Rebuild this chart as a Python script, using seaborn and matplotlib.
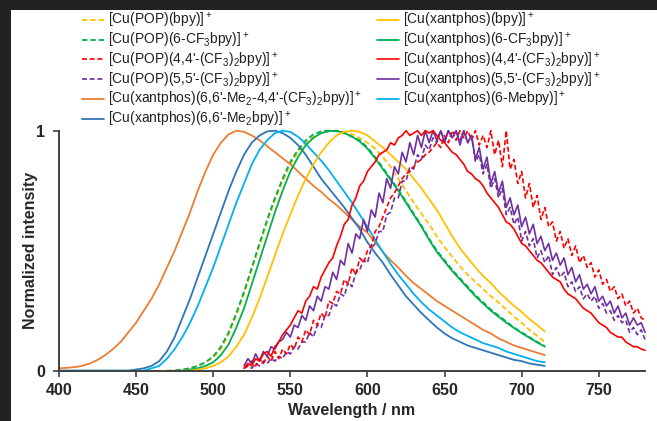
import numpy as np
import pandas as pd
import matplotlib
matplotlib.use("Agg")
import matplotlib.pyplot as plt
from matplotlib.patches import Rectangle
import seaborn as sns

sns.set_style("white")
plt.rcParams['font.family'] = ['Liberation Sans', 'DejaVu Sans']
plt.rcParams['mathtext.fontset'] = 'custom'
plt.rcParams['mathtext.rm'] = 'Liberation Sans'
plt.rcParams['mathtext.it'] = 'Liberation Sans:italic'
plt.rcParams['mathtext.bf'] = 'Liberation Sans:bold'

# ---------------- data ----------------
# smooth spectra: 5 nm step, all ending at 715 nm
smooth_end = 715
smooth_step = 5
# noisy spectra: 2.5 nm step, starting at 520 nm
noisy_start = 520
noisy_step = 2.5

orange_xan_me2cf3 = [0.01, 0.012, 0.015, 0.02, 0.03, 0.045, 0.065, 0.09, 0.12, 0.16,
                     0.20, 0.25, 0.30, 0.36, 0.43, 0.50, 0.58, 0.66, 0.75, 0.83,
                     0.90, 0.95, 0.985, 1.0, 0.995, 0.98, 0.96, 0.935, 0.91, 0.885,
                     0.86, 0.83, 0.80, 0.77, 0.745, 0.715, 0.69, 0.66, 0.63, 0.60,
                     0.575, 0.535, 0.495, 0.46, 0.43, 0.395, 0.365, 0.34, 0.315, 0.29,
                     0.27, 0.25, 0.23, 0.21, 0.19, 0.17, 0.155, 0.135, 0.12, 0.105,
                     0.095, 0.085, 0.075, 0.065]
blue_xan_me2 = [0, 0, 0, 0, 0, 0, 0, 0, 0, 0,
                0.005, 0.01, 0.02, 0.04, 0.08, 0.14, 0.22, 0.30, 0.39, 0.48,
                0.57, 0.66, 0.75, 0.83, 0.90, 0.95, 0.98, 0.997, 1.0, 0.99,
                0.97, 0.94, 0.90, 0.85, 0.80, 0.76, 0.72, 0.68, 0.635, 0.59,
                0.535, 0.49, 0.45, 0.40, 0.355, 0.31, 0.275, 0.24, 0.21, 0.18,
                0.155, 0.135, 0.12, 0.105, 0.095, 0.085, 0.075, 0.065, 0.055, 0.045,
                0.04, 0.03, 0.025, 0.02]
cyan_xan_mebpy = [0, 0, 0, 0, 0, 0, 0, 0, 0, 0, 0, 0,
                  0.01, 0.02, 0.05, 0.09, 0.14, 0.20, 0.27, 0.35, 0.43, 0.52,
                  0.61, 0.70, 0.78, 0.86, 0.92, 0.96, 0.99, 1.0, 0.995, 0.975,
                  0.945, 0.91, 0.875, 0.835, 0.79, 0.745, 0.70, 0.65, 0.60, 0.545,
                  0.495, 0.445, 0.40, 0.36, 0.32, 0.285, 0.255, 0.23, 0.205, 0.18,
                  0.16, 0.145, 0.13, 0.115, 0.105, 0.095, 0.08, 0.07, 0.06, 0.05,
                  0.04, 0.035]
green_pop_cf3 = [0, 0, 0.005, 0.01, 0.02, 0.035, 0.06, 0.10, 0.16, 0.24,
                 0.33, 0.43, 0.53, 0.63, 0.72, 0.80, 0.87, 0.92, 0.96, 0.985,
                 0.997, 1.0, 0.997, 0.99, 0.975, 0.96, 0.93, 0.89, 0.845, 0.80,
                 0.755, 0.705, 0.655, 0.605, 0.55, 0.50, 0.46, 0.42, 0.385, 0.35,
                 0.315, 0.285, 0.255, 0.23, 0.205, 0.18, 0.16, 0.14, 0.12, 0.103]
green_xan_cf3 = [0, 0, 0.005, 0.01, 0.02, 0.035, 0.065, 0.11, 0.18, 0.26,
                 0.36, 0.46, 0.56, 0.66, 0.75, 0.83, 0.89, 0.94, 0.97, 0.99,
                 0.998, 1.0, 0.99, 0.975, 0.955, 0.925, 0.885, 0.84, 0.795, 0.75,
                 0.70, 0.65, 0.60, 0.545, 0.495, 0.455, 0.415, 0.38, 0.345, 0.31,
                 0.28, 0.25, 0.225, 0.20, 0.178, 0.157, 0.137, 0.118, 0.10]
yellow_pop_bpy = [0, 0, 0.005, 0.01, 0.02, 0.035, 0.055, 0.09, 0.15, 0.23,
                  0.32, 0.42, 0.52, 0.62, 0.71, 0.79, 0.86, 0.91, 0.95, 0.975,
                  0.99, 0.998, 1.0, 0.995, 0.985, 0.97, 0.95, 0.925, 0.89, 0.85,
                  0.80, 0.75, 0.70, 0.655, 0.61, 0.56, 0.515, 0.475, 0.435, 0.40,
                  0.37, 0.34, 0.31, 0.285, 0.255, 0.225, 0.20, 0.17, 0.145, 0.12]
yellow_xan_bpy = [0, 0, 0.005, 0.01, 0.02, 0.035, 0.06, 0.10, 0.15, 0.22,
                  0.30, 0.39, 0.48, 0.57, 0.65, 0.73, 0.80, 0.86, 0.91, 0.95,
                  0.98, 0.995, 1.0, 0.995, 0.98, 0.955, 0.93, 0.90, 0.87, 0.84,
                  0.80, 0.76, 0.715, 0.67, 0.615, 0.56, 0.51, 0.47, 0.43, 0.395,
                  0.365, 0.33, 0.30, 0.27, 0.245, 0.215, 0.19, 0.163]

red_xan_cf3 = [0.01, 0.03, 0.02, 0.05, 0.04, 0.07, 0.08, 0.06, 0.10, 0.12,
               0.15, 0.17, 0.19, 0.22, 0.25, 0.24, 0.29, 0.31, 0.35, 0.34,
               0.39, 0.42, 0.45, 0.47, 0.52, 0.56, 0.61, 0.63, 0.69, 0.72,
               0.77, 0.79, 0.83, 0.85, 0.87, 0.90, 0.91, 0.92, 0.95, 0.94,
               0.97, 0.98, 1.0, 0.98, 0.99, 1.0, 0.98, 1.0, 0.99, 1.0,
               0.98, 0.96, 0.95, 0.93, 0.91, 0.90, 0.88, 0.86, 0.83, 0.82,
               0.80, 0.79, 0.77, 0.74, 0.72, 0.70, 0.68, 0.65, 0.62, 0.61,
               0.59, 0.56, 0.53, 0.52, 0.50, 0.48, 0.46, 0.45, 0.43, 0.41,
               0.39, 0.38, 0.37, 0.34, 0.32, 0.31, 0.30, 0.28, 0.26, 0.25,
               0.24, 0.22, 0.20, 0.19, 0.18, 0.16, 0.15, 0.14, 0.14, 0.12,
               0.11, 0.10, 0.10, 0.09, 0.085]
purple_xan_cf3 = [0.02, 0.05, 0.03, 0.07, 0.04, 0.08, 0.06, 0.10, 0.09, 0.12,
                  0.13, 0.16, 0.14, 0.19, 0.18, 0.23, 0.21, 0.27, 0.25, 0.31,
                  0.29, 0.35, 0.34, 0.41, 0.38, 0.46, 0.44, 0.53, 0.49, 0.57,
                  0.55, 0.63, 0.58, 0.67, 0.64, 0.74, 0.70, 0.80, 0.76, 0.85,
                  0.82, 0.91, 0.87, 0.95, 0.90, 0.98, 0.93, 1.0, 0.95, 1.0,
                  0.96, 1.0, 0.95, 1.0, 0.97, 1.0, 0.94, 1.0, 0.95, 0.98,
                  0.88, 0.93, 0.84, 0.89, 0.78, 0.83, 0.74, 0.79, 0.68, 0.72,
                  0.65, 0.69, 0.60, 0.64, 0.57, 0.61, 0.53, 0.56, 0.50, 0.53,
                  0.46, 0.49, 0.44, 0.47, 0.40, 0.43, 0.37, 0.40, 0.34, 0.36,
                  0.32, 0.35, 0.29, 0.31, 0.27, 0.29, 0.24, 0.27, 0.22, 0.24,
                  0.19, 0.22, 0.19, 0.20, 0.16]
purple_pop_cf3 = [0.01, 0.02, 0.01, 0.03, 0.02, 0.04, 0.03, 0.05, 0.04, 0.06,
                  0.05, 0.08, 0.07, 0.10, 0.09, 0.12, 0.12, 0.16, 0.14, 0.19,
                  0.18, 0.23, 0.23, 0.28, 0.27, 0.32, 0.31, 0.37, 0.35, 0.41,
                  0.42, 0.46, 0.45, 0.51, 0.53, 0.58, 0.58, 0.65, 0.66, 0.72,
                  0.72, 0.79, 0.79, 0.85, 0.84, 0.90, 0.88, 0.94, 0.92, 0.97,
                  0.95, 1.0, 0.96, 1.0, 0.97, 1.0, 0.96, 1.0, 0.95, 0.98,
                  0.87, 0.90, 0.82, 0.86, 0.76, 0.80, 0.72, 0.76, 0.65, 0.68,
                  0.61, 0.64, 0.54, 0.58, 0.52, 0.55, 0.47, 0.50, 0.45, 0.48,
                  0.40, 0.43, 0.39, 0.41, 0.35, 0.37, 0.33, 0.35, 0.30, 0.32,
                  0.29, 0.31, 0.26, 0.28, 0.24, 0.25, 0.21, 0.23, 0.20, 0.21,
                  0.16, 0.18, 0.15, 0.17, 0.13]
red_pop_cf3 = [0.01, 0.02, 0.04, 0.02, 0.05, 0.03, 0.06, 0.04, 0.08, 0.05,
               0.09, 0.07, 0.11, 0.09, 0.14, 0.12, 0.17, 0.15, 0.21, 0.19,
               0.24, 0.22, 0.29, 0.28, 0.33, 0.32, 0.38, 0.36, 0.43, 0.40,
               0.47, 0.45, 0.50, 0.52, 0.58, 0.60, 0.64, 0.68, 0.72, 0.74,
               0.77, 0.80, 0.82, 0.83, 0.85, 0.87, 0.88, 0.90, 0.91, 0.93,
               0.95, 0.93, 0.98, 0.95, 1.0, 0.96, 1.0, 0.97, 1.0, 0.96,
               1.0, 0.94, 0.98, 0.93, 1.0, 0.90, 0.96, 0.85, 1.0, 0.84,
               0.88, 0.78, 0.83, 0.72, 0.78, 0.68, 0.73, 0.63, 0.68, 0.60,
               0.62, 0.54, 0.58, 0.51, 0.55, 0.48, 0.52, 0.45, 0.48, 0.43,
               0.45, 0.39, 0.42, 0.36, 0.38, 0.33, 0.35, 0.30, 0.32, 0.27,
               0.29, 0.24, 0.26, 0.22, 0.21]

labels = {
    'pop_bpy': '[Cu(POP)(bpy)]$^+$',
    'pop_cf3': '[Cu(POP)(6-CF$_3$bpy)]$^+$',
    'pop_44': "[Cu(POP)(4,4'-(CF$_3$)$_2$bpy)]$^+$",
    'pop_55': "[Cu(POP)(5,5'-(CF$_3$)$_2$bpy)]$^+$",
    'xan_me2cf3': "[Cu(xantphos)(6,6'-Me$_2$-4,4'-(CF$_3$)$_2$bpy)]$^+$",
    'xan_me2': "[Cu(xantphos)(6,6'-Me$_2$bpy)]$^+$",
    'xan_bpy': '[Cu(xantphos)(bpy)]$^+$',
    'xan_cf3': '[Cu(xantphos)(6-CF$_3$bpy)]$^+$',
    'xan_44': "[Cu(xantphos)(4,4'-(CF$_3$)$_2$bpy)]$^+$",
    'xan_55': "[Cu(xantphos)(5,5'-(CF$_3$)$_2$bpy)]$^+$",
    'xan_me': '[Cu(xantphos)(6-Mebpy)]$^+$',
}

YELLOW, GREEN, RED, PURPLE = '#FFC000', '#00B050', '#FF0000', '#7030A0'
ORANGE, BLUE, CYAN = '#ED7D31', '#2E75B6', '#00B0F0'

series = [
    ('pop_bpy', yellow_pop_bpy, 'smooth', YELLOW, True),
    ('pop_cf3', green_pop_cf3, 'smooth', GREEN, True),
    ('xan_me2cf3', orange_xan_me2cf3, 'smooth', ORANGE, False),
    ('xan_me2', blue_xan_me2, 'smooth', BLUE, False),
    ('xan_me', cyan_xan_mebpy, 'smooth', CYAN, False),
    ('xan_cf3', green_xan_cf3, 'smooth', GREEN, False),
    ('xan_bpy', yellow_xan_bpy, 'smooth', YELLOW, False),
    ('pop_55', purple_pop_cf3, 'noisy', PURPLE, True),
    ('pop_44', red_pop_cf3, 'noisy', RED, True),
    ('xan_55', purple_xan_cf3, 'noisy', PURPLE, False),
    ('xan_44', red_xan_cf3, 'noisy', RED, False),
]

fig = plt.figure(figsize=(6.57, 4.21), dpi=100)
ax = fig.add_axes([0.0898, 0.1195, 0.892, 0.5701])

handles = {}
for key, vals, kind, color, dashed in series:
    n = len(vals)
    if kind == 'smooth':
        wl = smooth_end - smooth_step * np.arange(n)[::-1]
    else:
        wl = noisy_start + noisy_step * np.arange(n)
    df = pd.DataFrame({'wl': wl, 'I': vals})
    before = len(ax.lines)
    sns.lineplot(data=df, x='wl', y='I', ax=ax, color=color,
                 linewidth=1.3 if kind == 'smooth' else 1.2,
                 legend=False, label=labels[key])
    line = ax.lines[before]
    line.set_clip_on(False)
    if dashed:
        line.set_dashes((3.0, 1.6))
    handles[key] = line

ax.set_xlim(400, 780)
ax.set_ylim(0, 1)
ax.set_xticks([400, 450, 500, 550, 600, 650, 700, 750])
ax.set_yticks([0, 1])
ax.set_yticklabels(['0', '1'])
for s in ['top', 'right']:
    ax.spines[s].set_visible(False)
for s in ['left', 'bottom']:
    ax.spines[s].set_color('#404040')
    ax.spines[s].set_linewidth(1.4)
ax.tick_params(axis='both', which='major', direction='out', length=4, width=1.2,
               color='#404040', labelsize=11.5, bottom=True, left=True)
ax.tick_params(axis='x', pad=5)
ax.tick_params(axis='y', pad=6)
for t in ax.get_xticklabels() + ax.get_yticklabels():
    t.set_fontweight('bold')
ax.set_xlabel('Wavelength / nm', fontsize=11.5, fontweight='bold')
ax.set_ylabel('Normalized intensity', fontsize=11.5, fontweight='bold')
ax.xaxis.set_label_coords(0.5, -0.135)
ax.yaxis.set_label_coords(-0.036, 0.5)

order = ['pop_bpy', 'pop_cf3', 'pop_44', 'pop_55', 'xan_me2cf3', 'xan_me2',
         'xan_bpy', 'xan_cf3', 'xan_44', 'xan_55', 'xan_me']
leg = fig.legend([handles[k] for k in order], [labels[k] for k in order],
                 loc='upper left', bbox_to_anchor=(82 / 657, 1 - 11 / 421),
                 ncol=2, frameon=False, fontsize=10, borderpad=0, borderaxespad=0,
                 handlelength=1.6, handletextpad=0.25, columnspacing=1.1,
                 labelspacing=0.06)
for t in leg.get_texts():
    t.set_color('#202020')

# dark screenshot frame at top and left
fig.add_artist(Rectangle((0, 1 - 10 / 421), 1, 10 / 421, transform=fig.transFigure,
                         facecolor='#222222', edgecolor='none', zorder=10))
fig.add_artist(Rectangle((0, 0), 11 / 657, 1, transform=fig.transFigure,
                         facecolor='#222222', edgecolor='none', zorder=10))

fig.savefig('out.png', dpi=100)
